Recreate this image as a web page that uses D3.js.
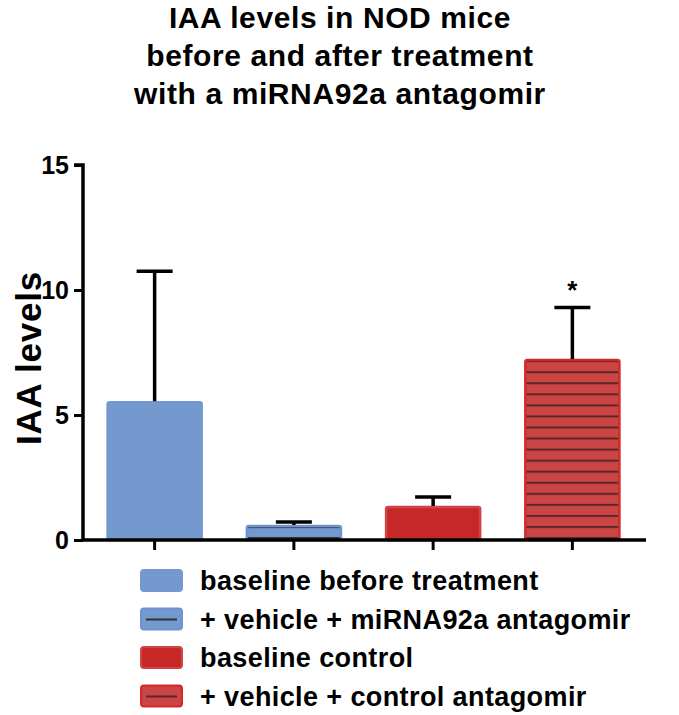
<!DOCTYPE html>
<html>
<head>
<meta charset="utf-8">
<script src="https://cdn.jsdelivr.net/npm/d3@7"></script>
<style>
	body { margin: 0; background: #fff; }
	text { font-family: "Liberation Sans", Arial, sans-serif; font-weight: bold; }
</style>
</head>
<body>
<div id="viz"></div>
<script>
// chart data
const groups = [
	"baseline before treatment",
	"+ vehicle + miRNA92a antagomir",
	"baseline control",
	"+ vehicle + control antagomir",
];
const means = [5.55, 0.6, 1.36, 7.24];
const errors = [5.2, 0.12, 0.36, 2.06];
const stars = ["", "", "", "*"];
const yTicks = [0, 5, 10, 15];
const titleLines = [
	"IAA levels in NOD mice",
	"before and after treatment",
	"with a miRNA92a antagomir",
];

const fills = ["#7399cf", "#7399cf", "#c62828", "#cc4545"];
const strokes = ["#7399cf", "#6d94d0", "#d04545", "#d22a2a"];
const striped = [false, true, false, true];
const stripeColor = ["#333", "#333", "#333", "#5a2626"];

var width = 679,
	height = 715;

var svg = d3
	.select("#viz")
	.append("svg")
	.attr("width", width)
	.attr("height", height);

// horizontal stripe patterns, lined up from the x axis
var defs = svg.append("defs");
groups.forEach((g, i) => {
	if (!striped[i]) return;
	var p = defs
		.append("pattern")
		.attr("id", "stripe" + i)
		.attr("patternUnits", "userSpaceOnUse")
		.attr("width", 8)
		.attr("height", 11.05)
		.attr("y", 537 - 11.05 * 50);
	p.append("rect").attr("width", 8).attr("height", 11.05).attr("fill", fills[i]);
	p.append("rect").attr("width", 8).attr("height", 2).attr("fill", stripeColor[i]);
});

// title
svg
	.append("g")
	.selectAll("text")
	.data(titleLines)
	.join("text")
	.attr("x", 340)
	.attr("y", (d, i) => 28 + i * 38)
	.attr("text-anchor", "middle")
	.attr("font-size", 30)
	.attr("letter-spacing", 0.6)
	.text((d) => d);

// scales
const x = d3
	.scaleBand()
	.domain(groups)
	.range([85, 642])
	.paddingInner(0.31)
	.paddingOuter(0.155);
const y = d3.scaleLinear().domain([0, 15]).range([540, 165]);

// bars
svg
	.append("g")
	.selectAll("rect")
	.data(groups)
	.join("rect")
	.attr("x", (d) => x(d) + 1)
	.attr("y", (d, i) => y(means[i]) + 1)
	.attr("width", x.bandwidth() - 2)
	.attr("height", (d, i) => y(0) - y(means[i]) - 1)
	.attr("rx", 2)
	.attr("fill", (d, i) => (striped[i] ? `url(#stripe${i})` : fills[i]))
	.attr("stroke", (d, i) => strokes[i])
	.attr("stroke-width", 2.5);

// error bars
var err = svg.append("g").attr("stroke", "#000").attr("stroke-width", 3.5);
groups.forEach((g, i) => {
	var cx = x(g) + x.bandwidth() / 2;
	err
		.append("line")
		.attr("x1", cx)
		.attr("x2", cx)
		.attr("y1", y(means[i]))
		.attr("y2", y(means[i] + errors[i]));
	err
		.append("line")
		.attr("x1", cx - 18)
		.attr("x2", cx + 18)
		.attr("y1", y(means[i] + errors[i]))
		.attr("y2", y(means[i] + errors[i]));
});

svg
	.append("g")
	.selectAll("text")
	.data(groups)
	.join("text")
	.attr("x", (d) => x(d) + x.bandwidth() / 2)
	.attr("y", (d, i) => y(means[i] + errors[i]) - 9)
	.attr("text-anchor", "middle")
	.attr("font-size", 26)
	.text((d, i) => stars[i]);

// y axis
var yAxis = svg
	.append("g")
	.attr("transform", "translate(83,0)")
	.call(d3.axisLeft(y).tickValues(yTicks).tickSize(9).tickPadding(5));
yAxis.selectAll("line").attr("stroke", "#000").attr("stroke-width", 3);
yAxis
	.select(".domain")
	.attr("stroke", "#000")
	.attr("stroke-width", 3.5)
	.attr("d", `M-9,${y(15)}H0V${y(0)}`);
yAxis
	.selectAll("text")
	.attr("font-size", 25)
	.attr("fill", "#000")
	.attr("font-family", "Liberation Sans, Arial, sans-serif")
	.attr("font-weight", "bold");

// x axis
var xAxis = svg
	.append("g")
	.attr("transform", `translate(0,${y(0)})`)
	.call(d3.axisBottom(x).tickSize(10).tickFormat(""));
xAxis.selectAll("line").attr("stroke", "#000").attr("stroke-width", 3);
xAxis
	.select(".domain")
	.attr("stroke", "#000")
	.attr("stroke-width", 3.5)
	.attr("d", "M81.5,0H646");

// y label
svg
	.append("text")
	.attr("transform", "translate(41,358) rotate(-90)")
	.attr("text-anchor", "middle")
	.attr("font-size", 35)
	.attr("letter-spacing", 0.8)
	.text("IAA levels");

// legend
var legend = svg
	.append("g")
	.selectAll("g")
	.data(groups)
	.join("g")
	.attr("transform", (d, i) => `translate(140,${569 + i * 38.5})`);
legend
	.append("rect")
	.attr("x", 1)
	.attr("y", 1)
	.attr("width", 41)
	.attr("height", 21)
	.attr("rx", 3)
	.attr("fill", (d, i) => fills[i])
	.attr("stroke", (d, i) => strokes[i])
	.attr("stroke-width", 2);
legend
	.filter((d, i) => striped[i])
	.append("line")
	.attr("x1", 6)
	.attr("x2", 37)
	.attr("y1", 12)
	.attr("y2", 12)
	.attr("stroke", (d) => stripeColor[groups.indexOf(d)])
	.attr("stroke-width", 2);
legend
	.append("text")
	.attr("x", 60)
	.attr("y", 21)
	.attr("font-size", 27)
	.attr("letter-spacing", 0.4)
	.text((d) => d);
</script>
</body>
</html>
